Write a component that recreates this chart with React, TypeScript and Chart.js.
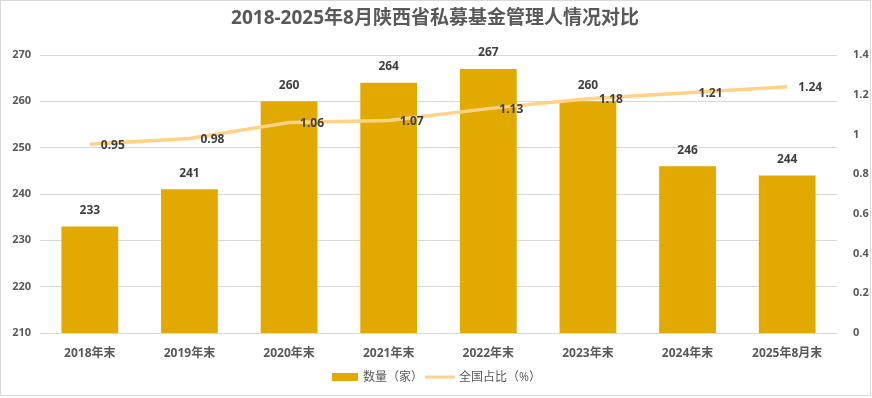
import React, { useEffect, useRef } from "react";
import { Chart, registerables } from "chart.js";

Chart.register(...registerables);

const categories = ["2018年末", "2019年末", "2020年末", "2021年末", "2022年末", "2023年末", "2024年末", "2025年8月末"];
const counts = [233, 241, 260, 264, 267, 260, 246, 244];
const shares = [0.95, 0.98, 1.06, 1.07, 1.13, 1.18, 1.21, 1.24];
const leftTicks = [210, 220, 230, 240, 250, 260, 270];
const rightTicks = [0, 0.2, 0.4, 0.6, 0.8, 1, 1.2, 1.4];
const title = "2018-2025年8月陕西省私募基金管理人情况对比";
const legendLabels = ["数量（家）", "全国占比（%）"];

const FONT = "'Open Sans', 'Noto Sans CJK SC', sans-serif";
const BAR = "#E2AA00";
const LINE = "#FFD285";
const TXT = "#595959";

const overlay = {
  id: "overlay",
  afterDatasetsDraw(chart: any) {
    const ctx = chart.ctx;
    ctx.save();
    const barMeta = chart.getDatasetMeta(0);
    ctx.font = `bold 12px ${FONT}`;
    ctx.fillStyle = "#404040";
    ctx.textAlign = "center";
    ctx.textBaseline = "middle";
    barMeta.data.forEach((el: any, i: number) => {
      ctx.fillText(String(counts[i]), el.x, el.y - 16);
    });
    const lineMeta = chart.getDatasetMeta(1);
    ctx.textAlign = "left";
    lineMeta.data.forEach((el: any, i: number) => {
      ctx.fillText(shares[i].toFixed(2), el.x + 11, el.y + 1);
    });
    ctx.restore();
  },
  afterDraw(chart: any) {
    const ctx = chart.ctx;
    const W = chart.width;
    ctx.save();
    ctx.strokeStyle = "#D9D9D9";
    ctx.lineWidth = 1;
    ctx.strokeRect(0.5, 0.5, 870, 395);
    ctx.font = `bold 19px ${FONT}`;
    ctx.fillStyle = TXT;
    ctx.textAlign = "center";
    ctx.textBaseline = "middle";
    ctx.fillText(title, W / 2 - 1, 19);
    ctx.font = `12px ${FONT}`;
    ctx.textAlign = "left";
    ctx.fillStyle = BAR;
    ctx.fillRect(332, 373, 26, 8);
    ctx.fillStyle = TXT;
    ctx.fillText(legendLabels[0], 363, 378);
    ctx.strokeStyle = LINE;
    ctx.lineWidth = 3;
    ctx.beginPath();
    ctx.moveTo(425, 377);
    ctx.lineTo(455, 377);
    ctx.stroke();
    ctx.fillText(legendLabels[1], 459, 378);
    ctx.restore();
  },
};

export default function App() {
  const ref = useRef<HTMLCanvasElement>(null);
  useEffect(() => {
    document.body.style.margin = "0";
    const chart = new Chart(ref.current!, {
      type: "bar",
      data: {
        labels: categories,
        datasets: [
          {
            type: "bar",
            label: legendLabels[0],
            data: counts,
            backgroundColor: BAR,
            yAxisID: "y",
            categoryPercentage: 1,
            barPercentage: 0.57,
            order: 2,
          },
          {
            type: "line",
            label: legendLabels[1],
            data: shares,
            borderColor: LINE,
            borderWidth: 3.5,
            pointRadius: 0,
            tension: 0,
            yAxisID: "y1",
            order: 1,
          } as any,
        ],
      },
      options: {
        animation: false,
        responsive: false,
        maintainAspectRatio: false,
        layout: { padding: { top: 55, bottom: 35, left: 0, right: 0 } },
        plugins: { legend: { display: false }, title: { display: false }, tooltip: { enabled: false } },
        scales: {
          x: {
            grid: { display: false },
            border: { display: false },
            ticks: { color: TXT, font: { family: FONT, size: 12, weight: "bold" }, padding: 5, maxRotation: 0 },
            afterFit: (s: any) => { s.height = 30; },
          },
          y: {
            position: "left",
            min: 210,
            max: 270,
            afterBuildTicks: (s: any) => { s.ticks = leftTicks.map((v) => ({ value: v })); },
            grid: { color: "#D9D9D9", drawTicks: false },
            border: { display: false },
            ticks: { color: TXT, font: { family: FONT, size: 11, weight: "bold" }, padding: 9 },
            afterFit: (s: any) => { s.width = 40; },
          },
          y1: {
            position: "right",
            min: 0,
            max: 1.4,
            afterBuildTicks: (s: any) => { s.ticks = rightTicks.map((v) => ({ value: v })); },
            grid: { display: false },
            border: { display: false },
            ticks: {
              color: TXT,
              font: { family: FONT, size: 11, weight: "bold" },
              padding: 8,
              callback: (v: any) => String(+Number(v).toFixed(1)),
            },
            afterFit: (s: any) => { s.width = 35; },
          },
        },
      },
      plugins: [overlay],
    });
    return () => chart.destroy();
  }, []);
  return <canvas ref={ref} width={872} height={398} style={{ display: "block" }} />;
}
